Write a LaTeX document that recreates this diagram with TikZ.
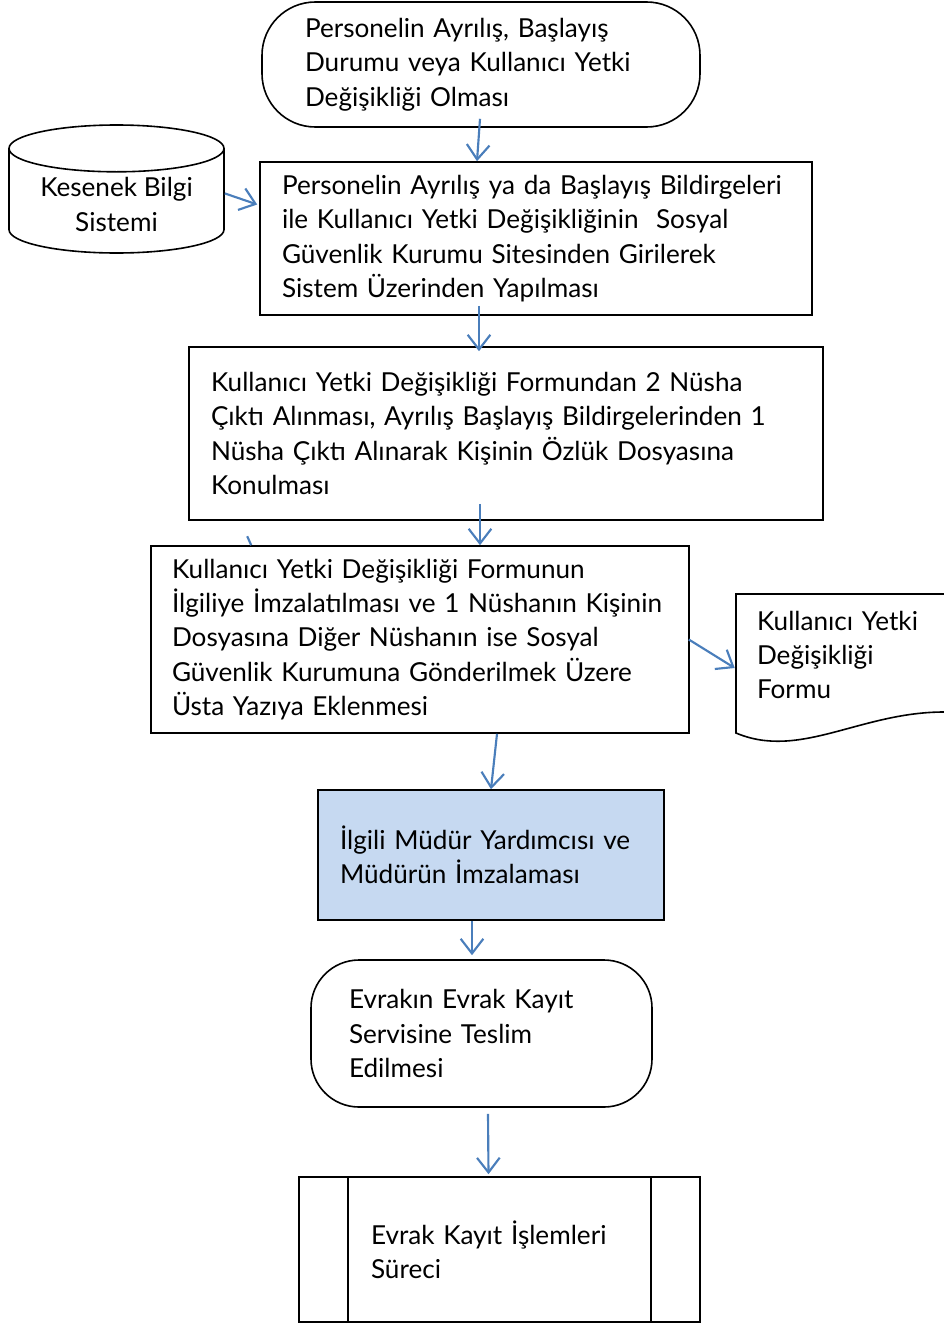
\documentclass[tikz,border=0pt]{standalone}
\usepackage{fontspec}
\setmainfont{Lato}
\usetikzlibrary{arrows.meta,shapes.geometric,calc}
\definecolor{linkblue}{RGB}{74,126,187}
\definecolor{fillblue}{RGB}{198,217,241}

\begin{document}
\begin{tikzpicture}[x=0.75pt,y=0.75pt,yscale=-1,xscale=1,
	every node/.style={font=\fontsize{19.6}{25.7}\selectfont},
	box/.style={draw, line width=1.2pt, rectangle, align=left, inner xsep=16.5pt},
	term/.style={box, rounded corners=40pt},
	link/.style={draw=linkblue, line width=1.6pt},
	flow/.style={link, -{Straight Barb[length=11pt,width=17pt]}}]
	\useasboundingbox (0,0) rectangle (944,1324);

	%Flowchart: Terminator
	\node (t1) [term, minimum width=328.5pt, minimum height=93.75pt, text width=264pt, inner xsep=32pt] at (481,64.5)
		{Personelin Ayrılış, Başlayış\\Durumu veya Kullanıcı Yetki\\Değişikliği Olması};
	%Flowchart: Magnetic Disk
	\node (ks) [draw, line width=1.2pt, cylinder, shape border rotate=90, aspect=0.29, minimum width=161.25pt, minimum height=96pt, align=center, anchor=shape center] at (116.5,189)
		{Kesenek Bilgi\\Sistemi};
	%Flowchart: Process
	\node (b2) [box, minimum width=414pt, minimum height=114.75pt, text width=381pt] at (536,238.5)
		{Personelin Ayrılış ya da Başlayış Bildirgeleri\\ile Kullanıcı Yetki Değişikliğinin\ \ Sosyal\\Güvenlik Kurumu Sitesinden Girilerek\\Sistem Üzerinden Yapılması};
	%Flowchart: Process
	\node (b3) [box, minimum width=475.5pt, minimum height=129.75pt, text width=442.5pt] at (506,433.5)
		{Kullanıcı Yetki Değişikliği Formundan 2 Nüsha\\Çıktı Alınması, Ayrılış Başlayış Bildirgelerinden 1\\Nüsha Çıktı Alınarak Kişinin Özlük Dosyasına\\Konulması};
	%Flowchart: Process
	\node (b4) [box, minimum width=403.5pt, minimum height=140.25pt, text width=372pt, inner xsep=15.75pt] at (420,639.5)
		{Kullanıcı Yetki Değişikliği Formunun\\İlgiliye İmzalatılması ve 1 Nüshanın Kişinin\\Dosyasına Diğer Nüshanın ise Sosyal\\Güvenlik Kurumuna Gönderilmek Üzere\\Üsta Yazıya Eklenmesi};
	%Flowchart: Document
	\node (frm) [align=left, inner xsep=15.75pt, minimum width=175.5pt, minimum height=91.5pt, text width=144pt] at (853,655)
		{Kullanıcı Yetki\\Değişikliği\\Formu};
	\draw [line width=1.2pt] (950,594) -- (736,594) -- (736,733) .. controls (800,760) and (860,712) .. (944,712) -- (950,712);
	%Flowchart: Process
	\node (bl) [box, fill=fillblue, minimum width=259.5pt, minimum height=97.5pt, text width=226.5pt] at (491,855)
		{İlgili Müdür Yardımcısı ve\\Müdürün İmzalaması};
	%Flowchart: Terminator
	\node (t2) [term, rounded corners=36pt, minimum width=255.75pt, minimum height=110.25pt, text width=198.75pt, inner xsep=28.5pt] at (481.5,1033.5)
		{Evrakın Evrak Kayıt\\Servisine Teslim\\Edilmesi};
	%Flowchart: Predefined Process
	\node (pp) [box, minimum width=300.75pt, minimum height=108.75pt, text width=192.75pt, inner xsep=54pt] at (499.5,1249.5)
		{Evrak Kayıt İşlemleri\\Süreci};
	\draw [line width=1.2pt] ($(pp.north west)+(50,0)$) -- ($(pp.south west)+(50,0)$);
	\draw [line width=1.2pt] ($(pp.north east)+(-50,0)$) -- ($(pp.south east)+(-50,0)$);

	%Straight Lines
	\draw [flow] ($(t1.south)+(-1,-9)$) -- ($(b2.north -| t1.south)+(-4,0)$);
	\draw [flow] ($(ks.east)+(0,-11)$) -- ($(b2.west)+(-2,-34)$);
	\draw [flow] ($(b2.south -| t1.south)+(-2,-10)$) -- ($(b3.north -| t1.south)+(-2,5)$);
	\draw [flow] ($(b3.south -| t1.south)+(-1,-17)$) -- ($(b4.north -| t1.south)+(-1,0)$);
	\draw [link] ($(b4.north west)+(97,-9)$) -- ($(b4.north west)+(101,0)$);
	\draw [flow] ($(b4.east)+(-1,0)$) -- ($(frm.west)+(-1,13)$);
	\draw [flow] ($(b4.south -| bl.north)+(6,0)$) -- (bl.north);
	\draw [flow] ($(bl.south)+(-19,0)$) -- ($(t2.north)+(-9.5,-4)$);
	\draw [flow] ($(t2.south)+(6.5,6)$) -- ($(pp.north)+(-11,-2)$);
\end{tikzpicture}
\end{document}
